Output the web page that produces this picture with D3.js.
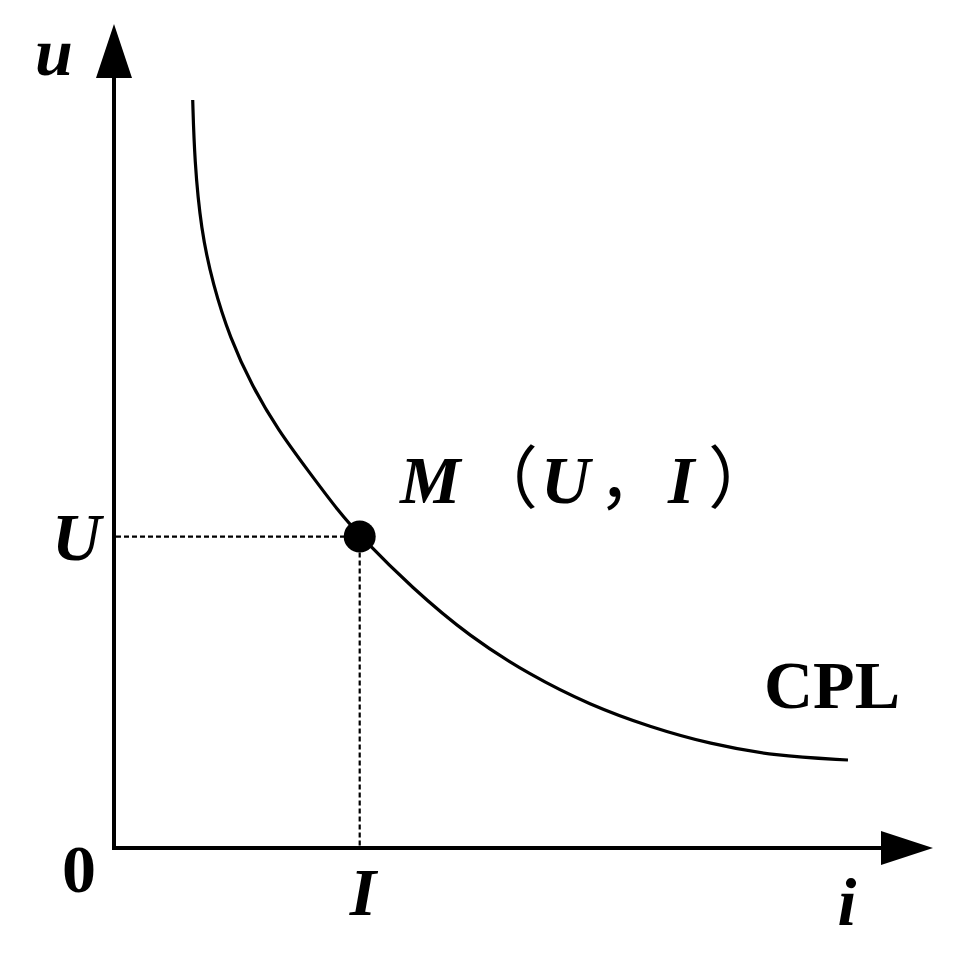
<!DOCTYPE html>
<html>
<head>
<meta charset="utf-8">
<script src="https://cdn.jsdelivr.net/npm/d3@7/dist/d3.min.js"></script>
<style>
  html, body { margin: 0; padding: 0; background: #fff; }
  svg { display: block; }
  text { font-family: "Liberation Serif", "Times New Roman", serif; fill: #000; font-weight: bold; }
</style>
</head>
<body>
<script>
// CPL curve samples (i, u) in axis units
const curveI = [0.961, 0.983, 1.062, 1.209, 1.416, 1.685, 2.002, 2.381, 2.747, 3.004, 3.639, 4.347, 5.079, 5.812, 6.545, 7.277, 8.071, 8.962];
const curveU = [9.078, 8.350, 7.500, 6.833, 6.189, 5.607, 5.073, 4.563, 4.078, 3.786, 3.155, 2.561, 2.100, 1.735, 1.468, 1.262, 1.117, 1.068];
// operating point M(U, I)
const pointM = { i: 3.00, u: 3.78 };
const axisMax = { i: 10, u: 10 };

const W = 966, H = 960;
const svg = d3.select("body").append("svg").attr("width", W).attr("height", H);

const x = d3.scaleLinear().domain([0, axisMax.i]).range([114, 933]);
const y = d3.scaleLinear().domain([0, axisMax.u]).range([848, 24]);

// axes
svg.append("line").attr("x1", x(0)).attr("y1", y(0) + 2).attr("x2", x(0)).attr("y2", y(axisMax.u) + 20)
  .attr("stroke", "#000").attr("stroke-width", 4);
svg.append("line").attr("x1", x(0) - 2).attr("y1", y(0)).attr("x2", x(axisMax.i) - 20).attr("y2", y(0))
  .attr("stroke", "#000").attr("stroke-width", 4);

// arrow heads
const ty = y(axisMax.u), tx = x(axisMax.i);
svg.append("path")
  .attr("d", `M${x(0)},${ty} L${x(0) - 18},${ty + 54} L${x(0) + 18},${ty + 54} Z`)
  .attr("fill", "#000");
svg.append("path")
  .attr("d", `M${tx},${y(0)} L${tx - 52},${y(0) - 17} L${tx - 52},${y(0) + 17} Z`)
  .attr("fill", "#000");

// dotted guides
svg.append("line").attr("x1", x(0) + 2).attr("y1", y(pointM.u)).attr("x2", x(pointM.i)).attr("y2", y(pointM.u))
  .attr("stroke", "#000").attr("stroke-width", 2.2).attr("stroke-dasharray", "5,3");
svg.append("line").attr("x1", x(pointM.i)).attr("y1", y(pointM.u)).attr("x2", x(pointM.i)).attr("y2", y(0) - 2)
  .attr("stroke", "#000").attr("stroke-width", 2.2).attr("stroke-dasharray", "5,3");

// CPL curve
const pts = curveI.map((v, k) => [v, curveU[k]]);
const line = d3.line().x(d => x(d[0])).y(d => y(d[1])).curve(d3.curveBasis);
svg.append("path").attr("d", line(pts)).attr("fill", "none").attr("stroke", "#000").attr("stroke-width", 3.2)
  .attr("stroke-linecap", "butt");

// point M
svg.append("circle").attr("cx", x(pointM.i)).attr("cy", y(pointM.u)).attr("r", 16).attr("fill", "#000");

// labels
const fs = 68;
svg.append("text").attr("x", 35).attr("y", 75).attr("font-size", fs).attr("font-style", "italic").text("u");
svg.append("text").attr("x", 52).attr("y", 560).attr("font-size", fs).attr("font-style", "italic").text("U");
svg.append("text").attr("x", 62).attr("y", 892).attr("font-size", fs).text("0");
svg.append("text").attr("x", 363).attr("y", 915).attr("font-size", fs).attr("font-style", "italic")
  .attr("text-anchor", "middle").text("I");
svg.append("text").attr("x", 847).attr("y", 925).attr("font-size", fs).attr("font-style", "italic")
  .attr("text-anchor", "middle").text("i");
svg.append("text").attr("x", 764).attr("y", 708).attr("font-size", fs).text("CPL");

const mt = svg.append("text").attr("y", 503).attr("font-size", fs);
mt.append("tspan").attr("x", 400).attr("font-style", "italic").text("M");
mt.append("tspan").attr("x", 470).style("font-family", "'Noto Sans CJK SC'").style("font-weight", "normal").text("（");
mt.append("tspan").attr("x", 541).attr("font-style", "italic").text("U");
mt.append("tspan").attr("x", 598).style("font-family", "'Noto Sans CJK SC'").style("font-weight", "normal").text("，");
mt.append("tspan").attr("x", 668).attr("font-style", "italic").text("I");
mt.append("tspan").attr("x", 708).style("font-family", "'Noto Sans CJK SC'").style("font-weight", "normal").text("）");
</script>
</body>
</html>
